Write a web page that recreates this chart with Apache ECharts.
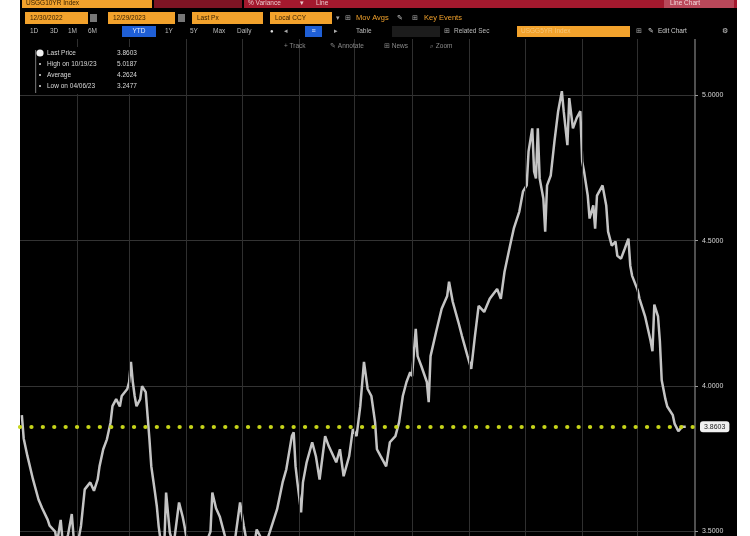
<!DOCTYPE html>
<html><head><meta charset="utf-8">
<script src="https://cdn.jsdelivr.net/npm/echarts@6/dist/echarts.min.js"></script>
<style>
html,body{margin:0;padding:0;background:#fff;}
#wrap{position:absolute;left:0;top:0;width:750px;height:536px;overflow:hidden;filter:blur(0.45px);}
#bg{position:absolute;left:20px;top:0;width:717px;height:536px;background:#000;}
#chart{position:absolute;left:0;top:0;width:750px;height:536px;}
</style></head><body>
<div id="wrap"><div id="bg"></div><div id="chart"></div></div>
<script>
// ---- data (US 10Y yield, 2023, daily) ----
const dates = [
'2023-01-02','2023-01-03','2023-01-05','2023-01-08','2023-01-11','2023-01-13','2023-01-16','2023-01-17','2023-01-20','2023-01-21',
'2023-01-23','2023-01-24','2023-01-25','2023-01-27','2023-01-29','2023-01-30','2023-02-01','2023-02-03','2023-02-05','2023-02-08',
'2023-02-10','2023-02-12','2023-02-13','2023-02-15','2023-02-17','2023-02-19','2023-02-20','2023-02-22','2023-02-24','2023-02-25',
'2023-02-28','2023-03-01','2023-03-02','2023-03-03','2023-03-04','2023-03-05','2023-03-07','2023-03-08','2023-03-10','2023-03-11',
'2023-03-12','2023-03-13','2023-03-14','2023-03-15','2023-03-16','2023-03-17','2023-03-18','2023-03-20','2023-03-21','2023-03-23',
'2023-03-25','2023-03-27','2023-03-28','2023-03-30','2023-03-31','2023-04-03','2023-04-06','2023-04-08','2023-04-11','2023-04-14',
'2023-04-15','2023-04-17','2023-04-19','2023-04-22','2023-04-24','2023-04-27','2023-04-30','2023-05-02','2023-05-04','2023-05-07',
'2023-05-09','2023-05-12','2023-05-14','2023-05-16','2023-05-20','2023-05-23','2023-05-25','2023-05-28','2023-05-29','2023-05-30',
'2023-05-31','2023-06-02','2023-06-03','2023-06-05','2023-06-08','2023-06-10','2023-06-12','2023-06-15','2023-06-17','2023-06-21',
'2023-06-23','2023-06-25','2023-06-28','2023-06-30','2023-07-02','2023-07-04','2023-07-06','2023-07-08','2023-07-10','2023-07-12',
'2023-07-13','2023-07-15','2023-07-18','2023-07-20','2023-07-23','2023-07-25','2023-07-27','2023-07-29','2023-07-31','2023-08-01',
'2023-08-03','2023-08-04','2023-08-06','2023-08-09','2023-08-10','2023-08-11','2023-08-14','2023-08-17','2023-08-20','2023-08-21',
'2023-08-23','2023-08-26','2023-08-28','2023-08-31','2023-09-02','2023-09-04','2023-09-06','2023-09-09','2023-09-12','2023-09-16',
'2023-09-18','2023-09-20','2023-09-23','2023-09-25','2023-09-28','2023-09-30','2023-10-02','2023-10-03','2023-10-05','2023-10-06',
'2023-10-07','2023-10-08','2023-10-09','2023-10-11','2023-10-12','2023-10-13','2023-10-15','2023-10-17','2023-10-19','2023-10-21',
'2023-10-22','2023-10-24','2023-10-25','2023-10-27','2023-10-29','2023-10-31','2023-11-01','2023-11-02','2023-11-04','2023-11-05',
'2023-11-07','2023-11-08','2023-11-09','2023-11-12','2023-11-14','2023-11-15','2023-11-17','2023-11-19','2023-11-20','2023-11-22',
'2023-11-24','2023-11-26','2023-11-27','2023-11-28','2023-12-01','2023-12-02','2023-12-05','2023-12-08','2023-12-09','2023-12-10',
'2023-12-12','2023-12-13','2023-12-14','2023-12-16','2023-12-17','2023-12-20','2023-12-21','2023-12-23','2023-12-25','2023-12-27'
];
const prices = [
3.90,3.82,3.76,3.68,3.61,3.58,3.54,3.52,3.50,3.46,
3.54,3.47,3.44,3.49,3.56,3.48,3.45,3.52,3.645,3.669,
3.64,3.679,3.724,3.783,3.817,3.876,3.931,3.955,3.93,3.966,
3.99,4.014,4.083,4.014,3.966,3.931,3.955,4.00,3.979,3.897,
3.817,3.724,3.679,3.634,3.586,3.517,3.47,3.45,3.634,3.497,
3.45,3.55,3.60,3.55,3.517,3.40,3.38,3.42,3.45,3.50,
3.634,3.58,3.552,3.48,3.42,3.46,3.60,3.52,3.45,3.43,
3.507,3.47,3.46,3.497,3.576,3.669,3.714,3.828,3.841,3.724,
3.669,3.566,3.669,3.738,3.807,3.759,3.679,3.828,3.793,3.738,
3.783,3.690,3.759,3.852,3.828,3.931,4.083,3.99,3.966,3.876,
3.783,3.759,3.724,3.807,3.828,3.876,3.966,4.014,4.048,4.034,
4.197,4.103,4.069,4.014,3.945,4.103,4.186,4.266,4.310,4.359,
4.290,4.221,4.172,4.103,4.059,4.172,4.276,4.255,4.30,4.334,
4.30,4.393,4.483,4.541,4.60,4.669,4.690,4.807,4.886,4.738,
4.714,4.886,4.714,4.645,4.531,4.690,4.724,4.841,4.945,5.014,
4.945,4.828,4.99,4.886,4.921,4.945,4.772,4.738,4.655,4.576,
4.621,4.541,4.655,4.690,4.621,4.531,4.483,4.497,4.448,4.438,
4.472,4.507,4.414,4.379,4.33,4.30,4.24,4.155,4.12,4.28,
4.24,4.155,4.02,3.955,3.93,3.90,3.87,3.845,3.86,3.8603
];
const monthStarts = ['2023-02-01','2023-03-01','2023-04-01','2023-05-01','2023-06-01','2023-07-01','2023-08-01','2023-09-01','2023-10-01','2023-11-01','2023-12-01'];
const axisStart = '2023-01-01';
const axisEnd = '2024-01-01';
const lastPrice = 3.8603;
const legendLabels = ['Last Price','High on 10/19/23','Average','Low on 04/06/23'];
const legendValues = ['3.8603','5.0187','4.2624','3.2477'];
const rangeButtons = ['1D','3D','1M','6M','YTD','1Y','5Y','Max'];

function ts(s){const p=s.split('-');return new Date(+p[0],+p[1]-1,+p[2]).getTime();}

const FONT = 'Liberation Sans, Arial, sans-serif';
const g = [];
function rect(x,y,w,h,fill,z,r){g.push({type:'rect',shape:{x:x,y:y,width:w,height:h,r:r||0},style:{fill:fill},z:z||50,silent:true});}
function txt(x,y,s,fill,size,align,z){g.push({type:'text',x:x,y:y,style:{text:s,fill:fill,fontSize:size||7,fontFamily:FONT,align:align||'left',verticalAlign:'middle'},z:z||52,silent:true});}

// header cover
rect(20,0,717,39,'#000',49);
// row 1
rect(22,0,130,8,'#f2a22c',50);
txt(26,3.5,'USGG10YR Index','#3a2200',6.5);
rect(154,0,88,8,'#7e1424',50);
rect(244,0,493,8,'#a3192e',50);
txt(248,3.5,'% Variance','#e9c9cc',6.5);
txt(300,3.5,'\u25BE','#e9c9cc',6.5);
txt(316,3.5,'Line','#e9c9cc',6.5);
rect(664,0,70,8,'#b9485a',51);
txt(670,3.5,'Line Chart','#f3d9dc',6.5);
// row 2
rect(25,12,63,12,'#f2a22c',50); txt(30,18,'12/30/2022','#3a2200',6.5);
rect(90,14,7,8,'#777',50);
rect(108,12,67,12,'#f2a22c',50); txt(113,18,'12/29/2023','#3a2200',6.5);
rect(178,14,7,8,'#777',50);
rect(192,12,71,12,'#f2a22c',50); txt(197,18,'Last Px','#3a2200',6.5);
rect(270,12,62,12,'#f2a22c',50); txt(275,18,'Local CCY','#3a2200',6.5);
txt(336,18,'\u25BE','#aaa',7);
txt(345,18,'\u229E','#aaa',7);
txt(356,18,'Mov Avgs','#f2a22c',7.5);
txt(397,18,'\u270E','#ccc',7);
txt(412,18,'\u229E','#aaa',7);
txt(424,18,'Key Events','#f2a22c',7.5);
// row 3
const rbX = [30,50,68,88,128,165,190,213];
rangeButtons.forEach(function(b,i){
  if(b==='YTD'){rect(122,26,34,11,'#1f5fd6',50); txt(139,31.5,b,'#e6eeff',6.5,'center');}
  else txt(rbX[i],31.5,b,'#bbb',6.5);
});
txt(237,31.5,'Daily','#bbb',6.5);
txt(270,31.5,'\u25CF','#ddd',6);
txt(284,31.5,'\u25C2','#aaa',7);
rect(305,26,17,11,'#1f5fd6',50); txt(313.5,31.5,'\u2261','#e6eeff',7,'center');
txt(334,31.5,'\u25B8','#aaa',7);
txt(356,31.5,'Table','#bbb',6.5);
rect(392,26,48,11,'#1c1c1c',50);
txt(444,31.5,'\u229E','#aaa',6.5);
txt(454,31.5,'Related Sec','#bbb',6.5);
rect(517,26,113,11,'#f2a22c',50); txt(521,31.5,'USGG5YR Index','#f7c77a',6.5);
txt(636,31.5,'\u229E','#aaa',6.5);
txt(648,31.5,'\u270E','#ddd',7);
txt(658,31.5,'Edit Chart','#ccc',6.5);
txt(722,31.5,'\u2699','#ccc',7);
// row 4
txt(284,46,'+ Track','#8a8a8a',6.5);
txt(330,46,'\u270E Annotate','#8a8a8a',6.5);
txt(384,46,'\u229E News','#8a8a8a',6.5);
txt(430,46,'\u2315 Zoom','#8a8a8a',6.5);
// legend box
rect(30,47,106,47,'#000',50);
rect(35,50,1.2,43,'#666',51);
g.push({type:'circle',shape:{cx:40,cy:53,r:3.6},style:{fill:'#f2f2f2'},z:52,silent:true});
legendLabels.forEach(function(l,i){
  const y = 53 + i*11;
  if(i>0) rect(39,y-1,2,2,'#aaa',52);
  txt(47,y,l,'#d8d8d8',6.5);
  txt(117,y,legendValues[i],'#d8d8d8',6.5);
});

const chart = echarts.init(document.getElementById('chart'), null, {renderer:'canvas'});
chart.setOption({
  backgroundColor:'transparent',
  animation:false,
  grid:{left:20,right:55,top:37,height:640,containLabel:false,outerBoundsMode:'none'},
  xAxis:{type:'time',min:ts(axisStart),max:ts(axisEnd),
    axisLine:{show:false},axisTick:{show:false},axisLabel:{show:false},splitLine:{show:false}},
  yAxis:{type:'value',position:'right',min:3.0,max:5.2,interval:0.5,
    axisLine:{show:true,lineStyle:{color:'#6a6a6a',width:1.5}},
    axisTick:{show:true,length:3,lineStyle:{color:'#999'}},
    axisLabel:{color:'#d6d6d6',fontSize:7,fontFamily:FONT,margin:7,showMaxLabel:false,
      formatter:function(v){return v.toFixed(4);}},
    splitLine:{show:true,lineStyle:{color:'#333',width:1}}},
  graphic:{elements:g},
  series:[
    {type:'line',name:'grid',data:[],silent:true,z:1,
     markLine:{silent:true,symbol:['none','none'],animation:false,
       label:{show:false},
       lineStyle:{color:'#2f2f2f',width:1,type:'solid'},
       data:monthStarts.map(function(d){return {xAxis:ts(d)};})}},
    {type:'line',name:'Last Price',showSymbol:false,z:3,
     data:dates.map(function(d,i){return [ts(d),prices[i]];}),
     lineStyle:{color:'#c4c4c4',width:2.5},
     markLine:{silent:true,symbol:['none','none'],animation:false,
       data:[{yAxis:lastPrice}],
       lineStyle:{color:'#c6d41a',width:4.2,type:[0.1,11.3],cap:'round'},
       label:{show:true,position:'end',distance:5,formatter:lastPrice.toFixed(4),
         backgroundColor:'#f1f1f1',color:'#222',fontSize:7,fontFamily:FONT,padding:[2,4],borderRadius:3}}}
  ]
});
</script>
</body></html>
